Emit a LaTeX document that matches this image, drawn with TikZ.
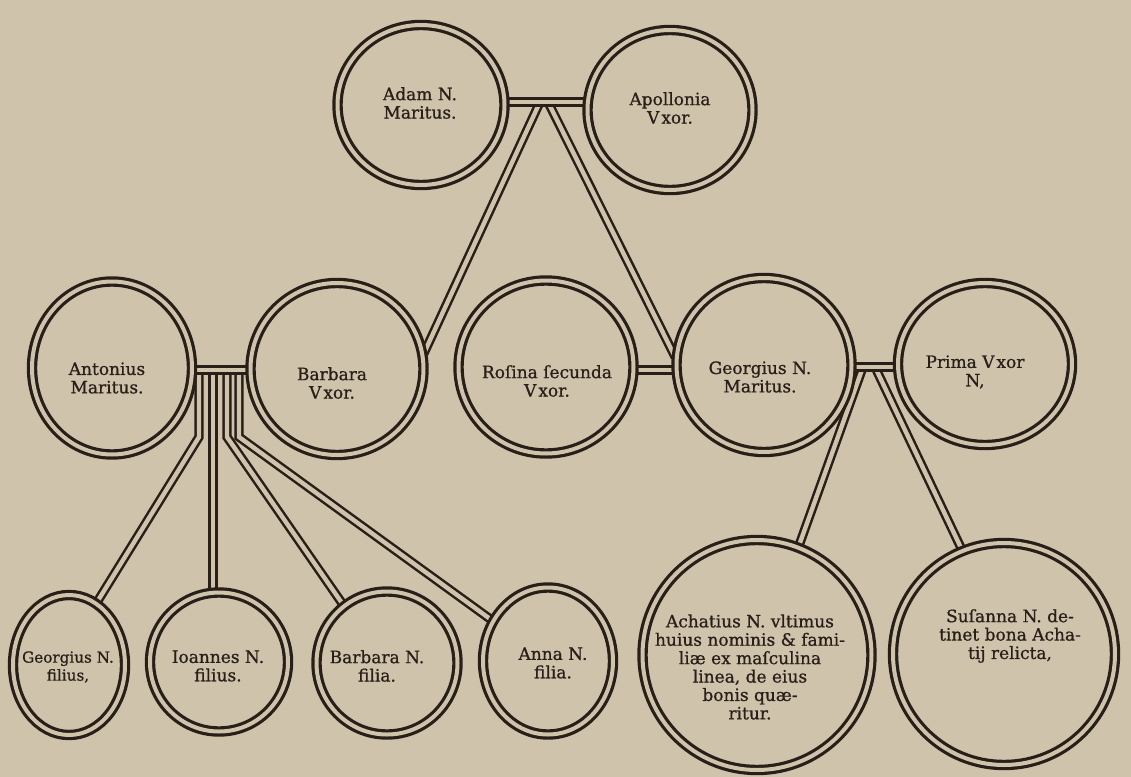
\documentclass[tikz,border=0pt]{standalone}
\usepackage{fontspec}
\setmainfont{DejaVu Serif}
\newfontfamily\inkfont[FakeBold=0.8]{DejaVu Serif}
\usetikzlibrary{shapes.geometric}
\definecolor{paper}{RGB}{207,195,172}
\definecolor{ink}{RGB}{40,31,24}
\pgfdeclarelayer{paperlayer}
\pgfdeclarelayer{links}
\pgfsetlayers{paperlayer,links,main}
\tikzset{
  ring/.style 2 args={ellipse, draw=ink, line width=1.6pt, double=paper,
    double distance=2pt, fill=paper, inner sep=0pt,
    minimum width=#1, minimum height=#2},
  conn/.style={draw=ink, line width=1.25pt, double=paper, double distance=2.2pt},
  txt/.style={font=\inkfont\fontsize{8.5}{9.2}\selectfont, align=center, text=ink, inner sep=0pt},
  smalltxt/.style={txt, font=\inkfont\fontsize{7.6}{9}\selectfont},
}
\begin{document}
\begin{tikzpicture}[x=0.5pt,y=-0.5pt]
\useasboundingbox (0,0) rectangle (1131,777);
\begin{pgfonlayer}{paperlayer}
  \fill[paper] (0,0) rectangle (1131,777);
\end{pgfonlayer}

% persons
\node[ring={83.5pt}{80pt}]   (adam)      at (421,105) {};
\node[ring={82.5pt}{80pt}]   (apollonia) at (670,110) {};
\node[ring={80pt}{86.5pt}]   (antonius)  at (112,368) {};
\node[ring={86.5pt}{86pt}]   (barbara)   at (337,369) {};
\node[ring={87.5pt}{86.5pt}] (rosina)    at (546,367) {};
\node[ring={87.5pt}{87pt}]   (georgius)  at (764,365) {};
\node[ring={87pt}{81pt}]     (prima)     at (985,364) {};
\node[ring={56pt}{70pt}]     (gfil)      at (69,665) {};
\node[ring={69pt}{69.5pt}]   (ioannes)   at (219,662) {};
\node[ring={70.5pt}{71.5pt}] (bfil)      at (387,663) {};
\node[ring={65pt}{73.5pt}]   (anna)      at (548,661) {};
\node[ring={114.5pt}{115pt}] (achatius)  at (757,655) {};
\node[ring={111pt}{111pt}]   (susanna)   at (1004,654) {};

% junction points
\coordinate (jAA) at (544,102);
\coordinate (jAAl) at (540,102);
\coordinate (jAAr) at (548,102);
\coordinate (jAB) at (221,370);
\coordinate (jRG) at (655,370);
\coordinate (jGP) at (875,367);
\coordinate (jGPl) at (863,367);
\coordinate (jGPr) at (875,367);
\coordinate (bendG) at (199,437);
\coordinate (bendB) at (227,437);
\coordinate (bendA) at (239,437);
\coordinate (topG) at (199,370);
\coordinate (topI) at (213,370);
\coordinate (topB) at (227,370);
\coordinate (topA) at (239,370);

\begin{pgfonlayer}{links}
  % descendants
  \draw[conn] (jAAl) -- (barbara.10);
  \draw[conn] (jAAr) -- (georgius.175);
  \draw[conn] (topG) -- (bendG) -- (gfil.66);
  \draw[conn] (topI) -- (topI |- ioannes.north);
  \draw[conn] (topB) -- (bendB) -- (bfil.127);
  \draw[conn] (topA) -- (bendA) -- (anna.144);
  \draw[conn] (jGPl) -- (achatius.69);
  \draw[conn] (jGPr) -- (susanna.112);
  % marriage bars
  \draw[conn] (jAA -| adam.center) -- (jAA -| apollonia.center);
  \draw[conn] (jAB -| antonius.center) -- (jAB -| barbara.center);
  \draw[conn] (jRG -| rosina.center) -- (jRG -| georgius.center);
  \draw[conn] (jGP -| georgius.center) -- (jGP -| prima.center);
\end{pgfonlayer}

% texts
\node[txt] (adamT)      at (420,103) {Adam N.\\Maritus.};
\node[txt] (apolloniaT) at (670,108) {Apollonia\\V\kern1pt xor.};
\node[txt] (antoniusT)  at (107,378) {Antonius\\Maritus.};
\node[txt] (barbaraT)   at (332,383) {Barbara\\V\kern1pt xor.};
\node[txt] (rosinaT)    at (547,381) {Roſina ſecunda\\V\kern1pt xor.};
\node[txt] (georgiusT)  at (760,377) {Georgius N.\\Maritus.};
\node[txt] (primaT)     at (975,372) {Prima V\kern1pt xor\\N,};
\node[smalltxt] (gfilT) at (68,667)  {Georgius N.\\filius,};
\node[txt] (ioannesT)   at (218,666) {Ioannes N.\\filius.};
\node[txt] (bfilT)      at (377,666) {Barbara N.\\filia.};
\node[txt] (annaT)      at (553,663) {Anna N.\\filia.};
\node[txt] (achatiusT)  at (750,667) {Achatius N. vltimus\\huius nominis \& fami-\\liæ ex maſculina\\linea, de eius\\bonis quæ-\\ritur.};
\node[txt] (susannaT)   at (1010,636) {Suſanna N. de-\\tinet bona Acha-\\tij relicta,};
\end{tikzpicture}
\end{document}
